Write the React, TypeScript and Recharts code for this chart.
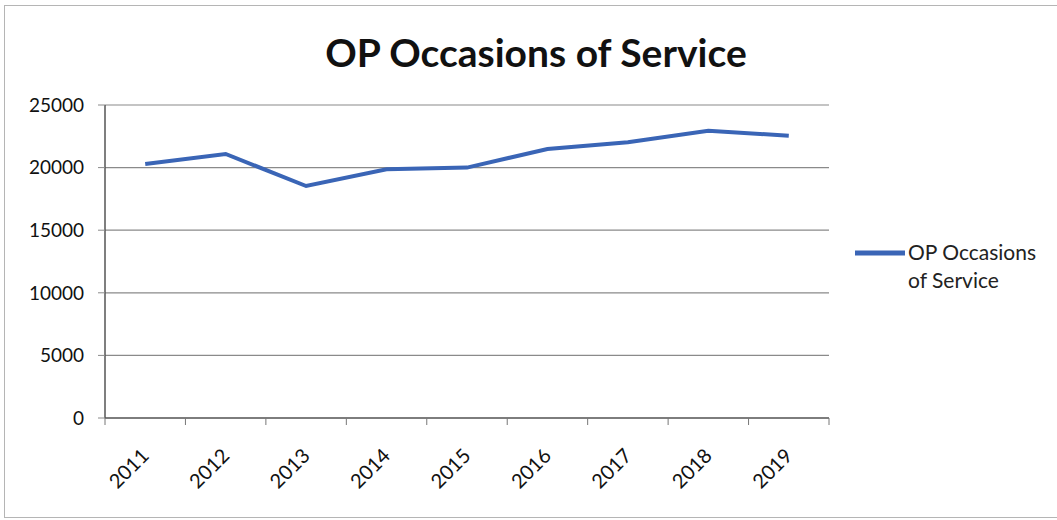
import { LineChart, Line, XAxis, YAxis, CartesianGrid, Legend } from "recharts";

const years = ["2011", "2012", "2013", "2014", "2015", "2016", "2017", "2018", "2019"];
const occasions = [20290, 21090, 18530, 19860, 20000, 21490, 22020, 22950, 22550];
const yTicks = [0, 5000, 10000, 15000, 20000, 25000];
const seriesName = "OP Occasions of Service";

const data = years.map((year, i) => ({ year, occasions: occasions[i] }));

const W = 1057;
const H = 520;
const margin = { top: 105, right: 38, left: 0, bottom: 42 };
const Y_W = 105;
const LEGEND_W = 190;
const PLOT_W = W - margin.left - margin.right - LEGEND_W - Y_W;
const BAND = PLOT_W / years.length;
const FONT = "Lato, 'Open Sans', sans-serif";
const BLUE = "#3a65b6";

// year labels are rotated, tick marks sit on the band edges like in Excel
const YearTick = (props: any) => {
  const { x, y, payload, index } = props;
  const axisY = y - 7;
  const tx = x + 5;
  const ty = y + 32;
  return (
    <g>
      <line x1={x - BAND / 2} x2={x - BAND / 2} y1={axisY} y2={axisY + 7} stroke="#777" />
      {index === years.length - 1 && (
        <line x1={x + BAND / 2} x2={x + BAND / 2} y1={axisY} y2={axisY + 7} stroke="#777" />
      )}
      <text
        x={tx}
        y={ty}
        transform={`rotate(-45, ${tx}, ${ty})`}
        textAnchor="end"
        fontFamily={FONT}
        fontSize={20}
        fill="#111"
      >
        {payload.value}
      </text>
    </g>
  );
};

const renderLegend = () => (
  <div style={{ display: "flex", alignItems: "flex-start", fontFamily: FONT, fontSize: 21, lineHeight: "28px", color: "#222" }}>
    <svg width={53} height={28} style={{ flex: "none" }}>
      <line x1={0} x2={50} y1={15} y2={15} stroke={BLUE} strokeWidth={5} />
    </svg>
    <span style={{ width: LEGEND_W - 53 }}>{seriesName}</span>
  </div>
);

const App = () => {
  return (
    <div style={{ position: "absolute", left: 0, top: 0, width: W, height: H, background: "#fff", overflow: "hidden" }}>
      <div
        style={{
          position: "absolute",
          left: 4,
          top: 5,
          width: W + 10,
          height: 511,
          border: "1.5px solid #b5b5b5",
        }}
      />
      <div
        style={{
          position: "absolute",
          left: 0,
          top: 33,
          width: 1072,
          textAlign: "center",
          fontFamily: FONT,
          fontWeight: 700,
          fontSize: 39,
          lineHeight: 1,
          color: "#111",
        }}
      >
        {seriesName}
      </div>
      <div style={{ position: "absolute", left: 0, top: 0 }}>
        <LineChart width={W} height={H} data={data} margin={margin}>
          <CartesianGrid vertical={false} stroke="#8a8a8a" strokeWidth={1.2} />
          <XAxis
            dataKey="year"
            padding={{ left: BAND / 2, right: BAND / 2 }}
            interval={0}
            tickSize={7}
            tickMargin={0}
            tickLine={false}
            axisLine={{ stroke: "#666", strokeWidth: 1.5 }}
            tick={<YearTick />}
            height={60}
          />
          <YAxis
            width={Y_W}
            domain={[0, 25000]}
            ticks={yTicks}
            interval={0}
            tickSize={7}
            tickMargin={14}
            tickLine={{ stroke: "#8a8a8a" }}
            axisLine={{ stroke: "#555", strokeWidth: 1.5 }}
            tick={{ fontFamily: FONT, fontSize: 19, fill: "#111" }}
          />
          <Legend
            layout="vertical"
            align="right"
            verticalAlign="middle"
            wrapperStyle={{ left: 855, top: 238, width: LEGEND_W }}
            content={renderLegend}
          />
          <Line
            type="linear"
            dataKey="occasions"
            name={seriesName}
            stroke={BLUE}
            strokeWidth={4}
            dot={false}
            isAnimationActive={false}
          />
        </LineChart>
      </div>
    </div>
  );
};

export default App;
